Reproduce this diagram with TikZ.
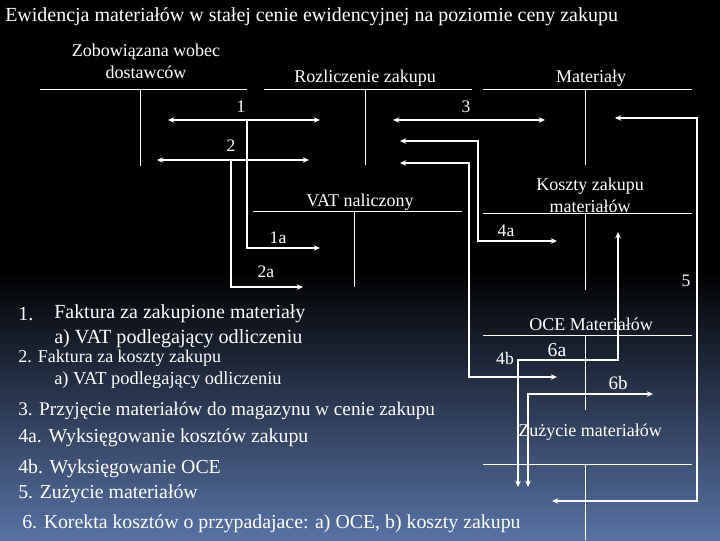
\documentclass[tikz,border=0pt]{standalone}
\usepackage{fontspec}
\setmainfont{Liberation Serif}
\usetikzlibrary{arrows.meta}
\definecolor{Deep}{HTML}{5872A4}
\tikzset{
  accline/.style={draw=white, line width=0.6pt},
  flowarr/.style={{Stealth[length=4.5pt,width=4pt]}-{Stealth[length=4.5pt,width=4pt]},
    draw=white, line width=1.4pt},
  branchar/.style={-{Stealth[length=4.5pt,width=4pt]}, draw=white, line width=1.4pt},
  acctext/.style={text=white, inner sep=0pt, align=center,
    font=\fontsize{12.8}{15.6}\selectfont},
  numtext/.style={text=white, inner sep=0pt, font=\fontsize{12.5}{14}\selectfont},
  listtext/.style={text=white, anchor=west, inner sep=0pt,
    font=\fontsize{#1}{#1}\selectfont},
}

\begin{document}
\begin{tikzpicture}[x=0.025cm, y=-0.025cm]
  \useasboundingbox (0,0) rectangle (720,540);
  \fill[black] (0,0) rectangle (720,540);
  \shade[top color=black, bottom color=Deep] (0,270) rectangle (720,540);

  \node[listtext=14.2, anchor=west] (title) at (5,17)
    {Ewidencja materiałów w stałej cenie ewidencyjnej na poziomie ceny zakupu};

  % konta
  \node[acctext] (zob) at (146,61) {Zobowiązana wobec\\dostawców};
  \draw[accline] (40,89) -- (247,89) (140,89) -- (140,166);
  \node[acctext] (rozl) at (365,78) {Rozliczenie zakupu};
  \draw[accline] (264,89) -- (472,89) (365,89) -- (365,165);
  \node[acctext] (mat) at (591,78) {Materiały};
  \draw[accline] (483,89) -- (692,89) (585,89) -- (585,165);
  \node[acctext] (vat) at (360,202) {VAT naliczony};
  \draw[accline] (253,211) -- (462,211) (354,211) -- (354,287);
  \node[acctext] (koszt) at (590,195) {Koszty zakupu\\materiałów};
  \draw[accline] (483,213) -- (692,213) (585,213) -- (585,290);
  \node[acctext] (oce) at (591,324) {OCE Materiałów};
  \draw[accline] (483,335) -- (692,335) (585,335) -- (585,410);
  \node[acctext] (zuz) at (590,432) {Zużycie materiałów};
  \draw[accline] (483,464) -- (692,464) (585,464) -- (585,540);

  % operacje
  \draw[flowarr] (168,120) -- (320,120);
  \draw[branchar] (247,120) |- (320,248);
  \draw[flowarr] (157,160) -- (309,160);
  \draw[branchar] (231,160) |- (303,287);
  \draw[flowarr] (393,120) -- (545,120);
  \draw[flowarr] (400,141) -| (478,241) -- (557,241);
  \draw[flowarr] (400,163) -| (469,377) -- (557,377);
  \draw[flowarr] (615,118) -| (697,501) -- (552,501);
  \draw[flowarr] (618,232) |- (518,360) -- (518,487);
  \draw[flowarr] (653,394) -| (528,487);

  \node[numtext] (n1) at (241,107) {1};
  \node[numtext] (n1a) at (278,238) {1a};
  \node[numtext] (n2) at (231,146) {2};
  \node[numtext] (n2a) at (266,272) {2a};
  \node[numtext] (n3) at (466,107) {3};
  \node[numtext] (n4a) at (506,231) {4a};
  \node[numtext] (n4b) at (505,358) {4b};
  \node[numtext] (n5) at (686,281) {5};
  \node[numtext, font=\fontsize{14}{14}\selectfont] (n6a) at (557,350) {6a};
  \node[numtext, font=\fontsize{13.5}{14}\selectfont] (n6b) at (618,383) {6b};

  % objaśnienia
  \node[listtext=14.2] (l1) at (18,314) {1.};
  \node[listtext=14.2] (l1t) at (54,314) {Faktura za zakupione materiały};
  \node[listtext=14.3] (l1a) at (54,339) {a) VAT podlegający odliczeniu};
  \node[listtext=12.8] (l2) at (18,358) {2. Faktura za koszty zakupu};
  \node[listtext=13.1] (l2a) at (54,380) {a) VAT podlegający odliczeniu};
  \node[listtext=13.7] (l3) at (18,411) {3. Przyjęcie materiałów do magazynu w cenie zakupu};
  \node[listtext=14.1] (l4a) at (18,438) {4a. Wyksięgowanie kosztów zakupu};
  \node[listtext=14.1] (l4b) at (18,469) {4b. Wyksięgowanie OCE};
  \node[listtext=14.1] (l5) at (18,494) {5. Zużycie materiałów};
  \node[listtext=14.1] (l6) at (22,524) {6. Korekta kosztów o przypadajace: a) OCE, b) koszty zakupu};
\end{tikzpicture}
\end{document}
